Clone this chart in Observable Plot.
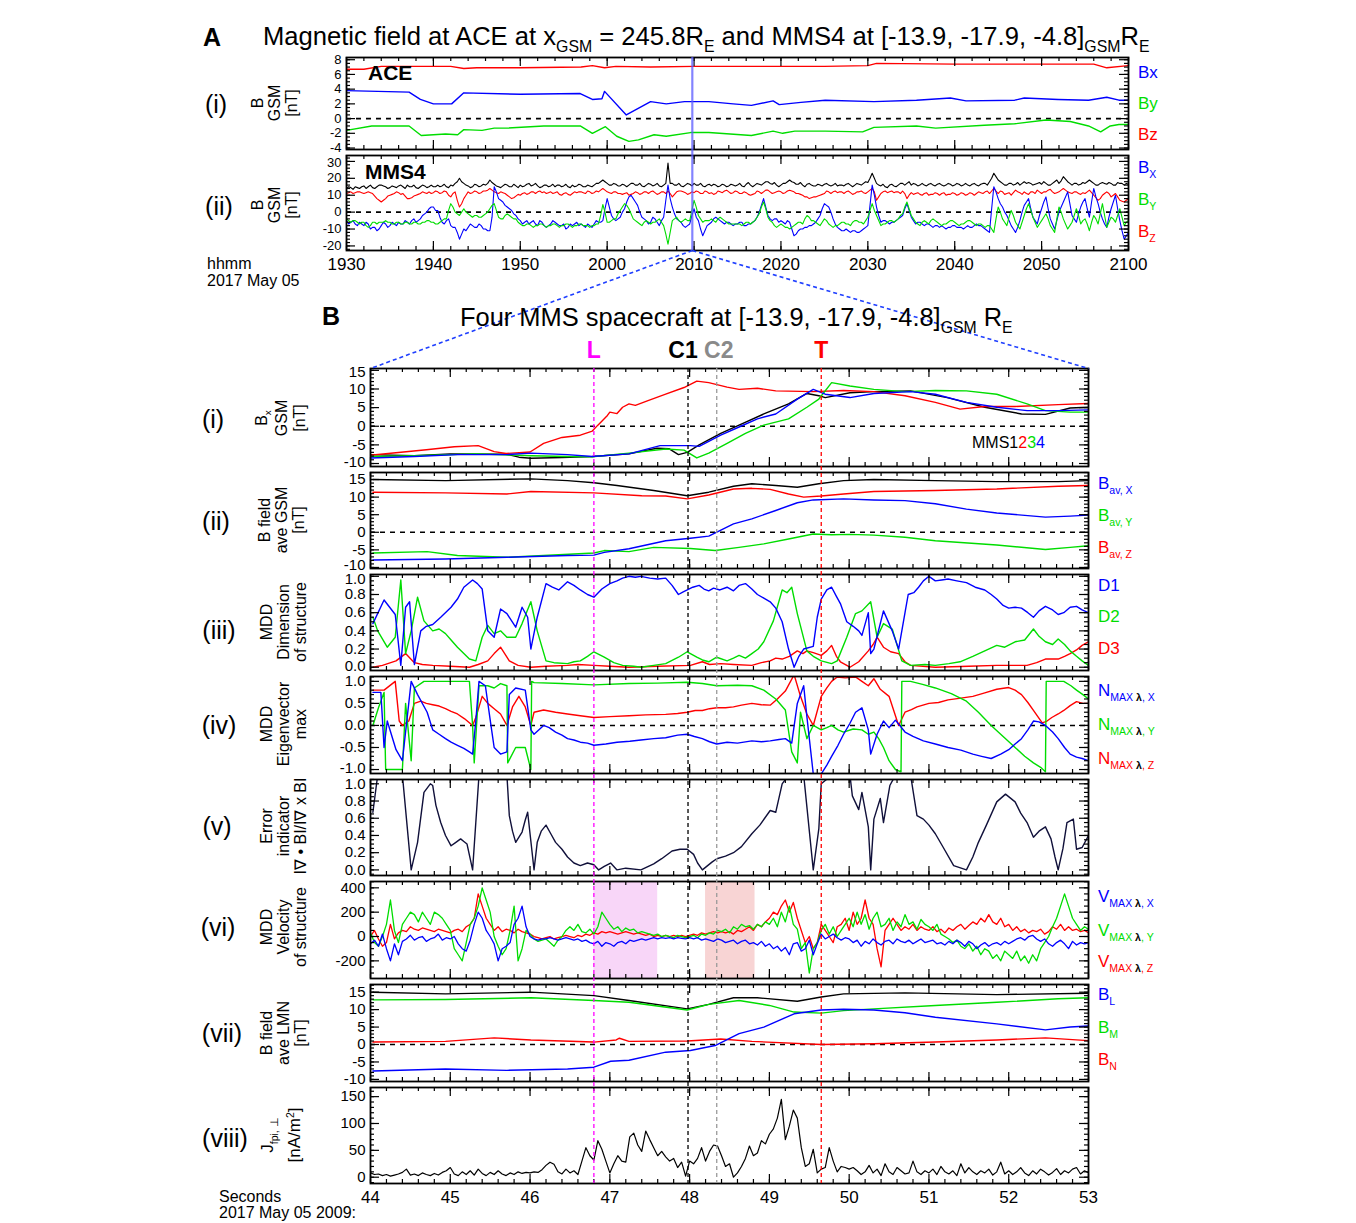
<!DOCTYPE html>
<html><head><meta charset="utf-8">
<script src="https://cdn.jsdelivr.net/npm/d3@7"></script>
<script src="https://cdn.jsdelivr.net/npm/@observablehq/plot@0.6"></script>
<style>
html,body{margin:0;padding:0;background:#fff;}
#root{position:relative;width:1356px;height:1223px;overflow:hidden;font-family:"Liberation Sans",Arial,Helvetica,sans-serif;color:#000;}
.t{position:absolute;white-space:nowrap;line-height:1;}
.sub{font-size:0.62em;position:relative;top:0.45em;}
.sup{font-size:0.62em;position:relative;top:-0.55em;}
.yt{position:absolute;white-space:nowrap;text-align:center;line-height:17px;}
</style></head><body><div id="root"></div>
<script>
const FONT='"Liberation Sans", Arial, Helvetica, sans-serif';
const BLUE="#0000ff", GREEN="#00dd00", RED="#ff0000", BLACK="#000000";

// ================= PANEL A data (x = minutes after 19:30) =================
const aceBx=[[0,3.8],[7.2,3.6],[8.5,2.6],[10,2.0],[12.1,2.0],[13.5,3.5],[20,3.3],[26.9,3.4],[28.3,2.6],[29.4,2.7],[29.7,3.7],[32.2,0.5],[35,2.3],[36.8,2.0],[38.9,2.3],[41.7,2.3],[44.5,2.0],[46.6,1.8],[49.1,2.4],[49.8,1.9],[52.3,2.2],[55.1,2.5],[60.7,2.3],[65.6,2.5],[69.5,2.8],[71.3,2.4],[76.9,2.5],[78,2.8],[81.9,2.6],[85.4,2.5],[87.5,2.9],[88.9,2.5],[90,2.5]];
const aceBy=[[0,-1.6],[2.9,-1.0],[7.2,-1.0],[8.6,-2.3],[10,-2.2],[11.4,-2.1],[12.8,-2.2],[13.5,-1.5],[15.6,-1.6],[17,-1.3],[18.4,-1.3],[22.7,-1.0],[26.9,-1.0],[28.3,-2.0],[29.8,-1.1],[31.1,-2.4],[32.5,-3.1],[33.6,-2.9],[35.4,-2.2],[36.8,-2.4],[39.6,-1.9],[41.7,-1.9],[46.6,-2.3],[49.1,-1.7],[50.2,-2.0],[51.6,-1.7],[55.1,-1.7],[59.4,-1.8],[60.7,-1.2],[65.6,-1.0],[67.8,-1.3],[73.4,-0.9],[76.9,-0.7],[80.5,-0.2],[83.3,-0.4],[85.4,-1.0],[86.8,-1.8],[87.9,-1.0],[88.9,-0.8],[90,-0.8]];
const aceBz=[[0,6.7],[2,6.7],[4,7.1],[12,7.1],[13.5,6.8],[15,6.9],[20,6.9],[27,7.0],[28.3,7.2],[29.7,6.9],[31,7.1],[35,7.0],[40,7.1],[50,7.1],[55,7.1],[60,7.2],[61,7.5],[70,7.4],[80,7.4],[86,7.4],[87.5,6.9],[90,7.2]];

// MMS4: samples on the half minute and values read between them (quarter minutes)
const mms4Bt=[14,14.5,15,14,15.5,15,14.5,15,16,15, 14.5,15,15.5,15,16,15,14.5,15,15.5,15, 15,16,15.5,15,16,17,20,17,15.5,15, 16,15.5,16,19,16.5,15,15.5,16,15,15.5, 16,15.5,17,16,15.5,15,16,15.5,15,16, 15.5,15,16,15.5,16,15,15.5,16,17,19, 17,16,16.5,15.5,16,16,17,16,15.5,16, 16.5,16,15.5,16,29,17,16,15.5,16,16.5, 17,16,15.5,16,15.5,16,15.5,16,15.5,16, 16,15.5,16.5,16,16,16.5,17,18,16.5,16, 16,17,19,17.5,16.5,16,16.5,16,15.5,16, 16.5,16,16,15.5,16,16.5,16,16,16.5,17, 17.5,23,17,15.5,15,16,15.5,16,17,17, 16,16.5,16,16,16.5,16,16.5,16,16,16.5, 16,16.5,16,16,16.5,16,16.5,17,18,23, 19,17,16,17,16.5,16,18,17.5,16,17, 16.5,17,16,18,17,21,18,16,17,16.5, 17,19,17,16,17.5,16.5,17,16,17,16,16.5];
const mms4BtMid=[15,13.5,14.5,15,14,16,14,16,15.5,14, 15.5,14.5,16,14,15,16,14,16,14.5,16, 15,15,16.5,14.5,15.5,18,18,16,14.5,16.5, 15,16.5,17,17.5,15.5,14.5,16.5,15,16.5,14.5, 15,16.5,15.5,17,14.5,16,15,16.5,16,15, 16.5,14.5,15,16.5,15,16,15,17,18,18, 16,17,15.5,16.5,15,17,16,17,15,17, 15.5,17,15,17,17,16,17,15,17,15.5, 16,17,15,16.5,16.5,15,16.5,15,16.5,15.5, 17,15,17.5,15,17,16,18,17,17.5,15, 17,18,18,16.5,17.5,15,17,15.5,16.5,15.5, 17,15.5,17,16,15.5,17,15,17,16,18, 20,20,16,16.5,14.5,16.5,15,17,16,18, 17,15.5,17,15.5,17,15.5,17,15.5,17,15.5, 17,15.5,17,15.5,17,15.5,17,16,20,21, 18,16,17,16,17.5,17,17,17,16.5,17.5, 18,16,17,19,18.5,19.5,17,17,16,17.5, 18,18,16,17,17,17.5,16,17.5,17,17];
const mms4Bz=[11,12,11.5,12,11,12,11,8,6,8, 10,11,11.5,11,8,8.5,10,11,11.5,12, 11.5,12,11.5,12,9,12,3,8,12,11.5, 12,11.5,12.5,14,12,11,11.5,10,8,9.5, 10,11.5,11,12,12,11.5,11,12,11.5,10.5, 11,10.5,11,11.5,12,11,12,11.5,12,14, 12,11,12,11,11,10,11,11.5,11,12, 12,11.5,11,12,12.5,9,12,12.5,11.5,11, 11.5,12,11,12,11.5,11,12,12.5,12,11.5, 12,11,11.5,10,11,12,12,13,11,12, 12,11.5,13,12,11,10,9,8.5,9,10, 11,12,12,11.5,12,12,11.5,11,12,11.5, 12,14,7,11,12.5,12,11.5,12,12.5,8, 11.5,11,10.5,11,10,10.5,11,11,10,10.5, 11,10.5,11,10.5,11,11,11.5,12,11,14, 11,12,11,10,13,11.5,12,10.5,12,13, 11,12,13.5,11,12,14,12,11,12,10.5, 11,13,10,7,10,12,9,11,7,6,8];
const mms4BzMid=[11.5,11,12,11.5,11.5,11.5,9.5,7,7,9.5, 10.5,12,10.5,9.5,8,9.5,10.5,12,11,11, 12.5,11,12.5,10,11,7,5,10,11,12.5, 11,12.5,13,13,11.5,12,11,9,8.5,10.5, 11,10.5,12,11,12.5,12,11.5,11,12,10, 11.5,10,12,12,11.5,12.5,11,12.5,13,13, 11.5,12,11,10.5,11.5,10.5,12,10.5,12,11, 12.5,10.5,12,11,11,10.5,12.5,12,10.5,12, 12.5,11,12.5,11,10.5,12.5,11.5,13,11,12.5, 11,12,10.5,10.5,12.5,11,13,12,11.5,12.5, 11,12.5,12.5,11,10.5,9,8,9,9.5,10.5, 12.5,11,12.5,12,11,12.5,10.5,12,12.5,11, 13,12,9,12,11.5,12.5,12,11,11,10, 10.5,11.5,10,11.5,10.5,11.5,10,11.5,10.5,11.5, 10,11.5,10,11.5,10,12,11,12.5,12.5,12.5, 12.5,10.5,11.5,11.5,12,10.5,11,12,11,12, 12,13,12,11.5,13,13,11.5,12,11,11.5, 12,11.5,8.5,8,11,11,10,9,6.5,7];
const mms4Bx=[-5,-6,-7,-6,-8,-7,-9,-11,-8,-7, -8,-7,-6,-7,-6,-5,-6,-4,-1,2, 3,1,-6,-5,-8,-9,-16,-10,-9,-8, -9,-8,-10,-11,15,8,6,3,1,-2, -5,-6,-7,-5,-8,-6,-9,-7,-6,-8, -7,-9,-8,-6,-7,-9,-8,-7,-6,-5, 8,-2,-5,-3,2,9,8,4,-3,-5, -6,-4,-8,-3,16,3,-4,-6,-9,-7, 2,-5,-14,-8,-6,-3,-5,-7,-6,-8, -7,-6,-8,-7,-5,0,8,-2,-5,-4, -5,-7,-6,-14,-11,-10,-9,-8,-6,-2, 5,3,-4,-9,-11,-10,-12,-11,-12,-10, -8,16,3,-6,-5,-7,-6,-4,-2,5, -3,-7,-6,-8,-7,-9,-8,-8,-10,-9, -8,-9,-10,-8,-9,-7,-8,-10,-12,15, 8,3,-2,-8,-12,-5,4,8,-3,-7, 2,9,-4,-10,0,6,12,-2,-6,3, 8,-3,14,5,-4,-9,2,10,-5,-16,-12];
const mms4BxMid=[-7,-5,-8,-7,-6,-10,-9,-10,-6,-9, -6,-8,-7,-5,-7,-4,-5,-2,0,3, 1,-3,-7,-4,-9,-12,-13,-11,-7,-9, -7,-10,-11,-3,12,7,4,2,-1,-4, -7,-5,-6,-7,-5,-8,-8,-5,-7,-8, -10,-7,-7,-8,-8,-7,-9,-5,-6,2, 3,-4,-4,0,6,10,6,0,-4,-7, -3,-6,-5,7,8,-1,-5,-8,-8,-2, -3,-10,-11,-7,-4,-4,-6,-6,-7,-7, -6,-8,-7,-6,-3,4,3,-4,-4,-6, -6,-5,-10,-13,-10,-9,-8,-7,-4,2, 4,0,-7,-10,-11,-11,-11,-12,-11,-9, 4,10,-2,-5,-6,-6,-5,-3,2,1, -5,-6,-7,-7,-8,-8,-9,-9,-9,-8, -9,-9,-9,-9,-8,-8,-9,-11,2,12, 5,0,-5,-10,-9,0,6,2,-5,-2, 6,2,-7,-5,3,9,5,-4,-1,6, 2,6,9,0,-7,-3,6,2,-11,-14];
const mms4By=[-4,-6,-5,-7,-6,-9,-6,-7,-6,-5, -6,-7,-6,-7,-6,-7,-6,-7,-6,-5, -6,-7,-5,-4,5,0,-2,2,-1,-3, -2,-3,-1,2,5,-3,-4,-1,-3,-4, -7,-8,-7,-9,-8,-7,-9,-8,-7,-9, -8,-7,-9,-8,-7,-8,-9,-8,-7,4.5, -6,-5,-4,1,5,2,-4,-6,-8,-5, -7,-6,-4,-8,-19,-5,-3,-6,-4,-5, 7,-2,-6,-5,-4,-6,-3,-5,-7,-7, -7,-8,-6,-7,-5,-1,6,-3,-6,-9, -7,-9,-10,-8,-6,-7,-2,-5,-6,-8, -4,-7,-9,-8,-6,-7,-8,-5,-6,-7, -3,5,-2,-8,-7,-5,-6,-4,-1,6, -2,-6,-8,-5,-7,-4,-6,-8,-7,-5, -6,-8,-7,-5,-6,-8,-7,-9,-8,-12, 3,-4,-8,1,-6,-10,-2,5,-3,-9, -5,-1,-8,-12,3,-4,-10,-6,2,-7, -4,-11,-2,-7,5,-9,-3,-6,2,-8,-5];
const mms4ByMid=[-5,-5,-6,-6,-8,-8,-6,-6,-6,-6, -7,-6,-7,-6,-7,-6,-7,-6,-5,-6, -7,-6,-4,1,3,-1,0,0,-2,-2, -3,-2,0,4,1,-4,-2,-2,-4,-6, -8,-7,-8,-8,-7,-8,-8,-7,-8,-8, -7,-8,-8,-7,-8,-8,-8,-7,-2,0, -6,-4,-1,3,4,-1,-5,-7,-6,-6, -6,-5,-6,-13,-12,-4,-5,-5,-5,1, 3,-4,-5,-5,-5,-4,-4,-6,-7,-7, -7,-7,-6,-6,-3,3,2,-5,-8,-8, -8,-9,-9,-7,-6,-4,-3,-5,-7,-6, -5,-8,-8,-7,-6,-7,-6,-5,-6,-5, 1,1,-5,-7,-6,-5,-5,-2,3,2, -4,-7,-6,-6,-5,-5,-7,-7,-6,-5, -7,-7,-6,-5,-7,-7,-8,-8,-10,-4, 0,-6,-3,-2,-8,-6,2,1,-6,-7, -3,-4,-10,-4,0,-7,-8,-2,-2,-5, -7,-6,-4,-1,-2,-6,-4,-2,-3,-6];
const aTicks=[0,10,20,30,40,50,60,70,80,90];
const aZoomMinute=39.8; // 20:09:48

// ================= PANEL B data (x = seconds after 20:09) =================
const events=[46.80,47.98,48.34,49.65];
const eventLabels=["L","C1","C2","T"];
const bx1=[[44.0,-7.6],[44.55,-7.9],[45.0,-7.4],[45.7,-7.5],[45.86,-8.3],[46.01,-8.6],[46.4,-8.4],[46.78,-8.1],[47.24,-7.4],[47.59,-5.9],[47.74,-6.0],[47.86,-7.6],[47.97,-7.0],[48.12,-5.0],[48.39,-1.9],[48.62,0.3],[48.93,3.3],[49.24,6.0],[49.47,8.8],[49.62,8.2],[49.70,7.7],[50.01,9.0],[50.31,9.3],[50.77,9.5],[51.23,7.7],[51.7,5.1],[52.16,3.3],[52.46,3.2],[52.77,4.9],[53.0,5.1]];
const bx2=[[44.0,-7.8],[44.7,-6.3],[45.05,-5.5],[45.35,-5.2],[45.55,-6.8],[45.7,-7.3],[46.0,-6.9],[46.17,-4.6],[46.4,-3.0],[46.63,-2.4],[46.78,-1.3],[46.85,0.3],[46.97,2.9],[47.0,3.8],[47.09,3.4],[47.16,5.1],[47.24,6.0],[47.32,5.6],[47.47,6.8],[47.7,8.6],[47.93,10.4],[48.09,12.1],[48.24,11.7],[48.47,10.5],[48.62,9.9],[48.85,10.2],[49.08,9.5],[49.55,9.3],[49.93,9.6],[50.31,9.3],[50.7,8.2],[51.08,6.4],[51.39,4.6],[51.7,5.3],[52.08,5.3],[52.62,5.8],[53.0,6.1]];
const bx3=[[44.0,-8.1],[44.55,-7.9],[45.32,-7.4],[46.01,-7.9],[46.47,-8.1],[46.78,-8.2],[47.24,-7.2],[47.70,-6.1],[47.93,-6.4],[48.09,-8.5],[48.24,-7.2],[48.47,-4.6],[48.70,-1.9],[48.93,0.3],[49.24,2.0],[49.47,5.1],[49.62,7.3],[49.78,11.7],[50.01,10.8],[50.31,9.9],[50.70,9.3],[51.08,9.6],[51.47,9.5],[51.85,8.6],[52.23,6.0],[52.46,4.2],[52.77,3.8],[53.0,3.8]];
const bx4=[[44.0,-8.5],[44.55,-8.1],[45.09,-7.6],[45.71,-7.6],[46.01,-7.2],[46.47,-7.6],[46.78,-8.1],[47.24,-7.4],[47.63,-5.2],[48.01,-5.2],[48.12,-5.4],[48.39,-2.4],[48.62,-0.2],[48.85,2.0],[49.08,3.3],[49.35,7.3],[49.55,9.9],[49.70,8.6],[50.01,7.7],[50.31,8.8],[50.77,9.3],[51.08,8.6],[51.47,6.4],[51.85,5.1],[52.23,4.2],[52.62,4.2],[53.0,4.4]];
const bavT=[[44.03,15],[44.94,14.7],[46.01,15.2],[46.47,14.7],[46.8,14.1],[47.09,13.3],[47.55,11.9],[47.97,10.4],[48.24,11.4],[48.55,13.1],[48.78,13.8],[49.08,13.3],[49.35,12.8],[49.62,13.8],[49.93,14.7],[50.31,15],[51.08,14.7],[51.85,14.4],[52.62,14.4],[53.0,14.7]];
const bavZ=[[44.03,11.4],[44.94,11.2],[45.71,10.9],[46.01,11.6],[46.8,11.2],[47.4,10.4],[47.7,10.3],[47.97,9.5],[48.24,10.6],[48.55,12.3],[48.78,12.5],[49.01,12.2],[49.24,10.9],[49.43,10.0],[49.65,10.3],[49.93,10.9],[50.31,11.6],[51.08,11.9],[51.85,12.3],[52.62,13.1],[53.0,13.3]];
const bavX=[[44.03,-7.9],[44.94,-7.6],[45.71,-7.1],[46.47,-6.6],[46.8,-6.5],[46.93,-5.7],[47.24,-4.7],[47.7,-2.4],[48.01,-1.7],[48.24,-1.1],[48.55,2.4],[48.78,3.8],[49.08,6.2],[49.35,8.4],[49.55,9.2],[49.93,9.5],[50.31,9.2],[50.7,9.0],[51.08,8.1],[51.47,6.6],[51.85,5.5],[52.46,4.3],[52.77,4.6],[53.0,4.9]];
const bavY=[[44.03,-5.9],[44.71,-5.5],[45.09,-6.6],[45.71,-7.1],[46.17,-6.6],[46.8,-5.9],[46.93,-5.2],[47.24,-5.5],[47.55,-4.3],[48.01,-4.6],[48.32,-5.2],[48.62,-4.3],[48.93,-3.3],[49.24,-1.9],[49.55,-0.5],[49.78,-0.7],[50.01,-0.6],[50.31,-0.8],[50.7,-1.4],[51.08,-2.4],[51.85,-3.6],[52.46,-4.9],[52.77,-4.3],[53.0,-3.8]];
const dim1=[[44.03,.48],[44.17,.74],[44.31,.58],[44.38,.02],[44.44,.66],[44.49,.72],[44.55,.03],[44.63,.40],[44.70,.45],[44.78,.47],[44.88,.55],[45.01,.66],[45.09,.75],[45.17,.88],[45.28,.96],[45.34,.92],[45.40,.86],[45.47,.40],[45.55,.33],[45.63,.64],[45.71,.59],[45.82,.44],[45.90,.66],[45.97,.55],[46.01,.20],[46.09,.55],[46.20,.92],[46.28,.88],[46.36,.85],[46.47,.94],[46.55,.90],[46.63,.85],[46.72,.80],[46.80,.77],[46.90,.86],[47.00,.92],[47.09,.95],[47.16,.98],[47.24,1.0],[47.32,.99],[47.39,1.0],[47.50,.98],[47.60,.97],[47.70,.98],[47.78,.90],[47.86,.80],[47.92,.83],[47.97,.85],[48.04,.88],[48.12,.90],[48.18,.86],[48.24,.84],[48.30,.87],[48.38,.85],[48.47,.88],[48.55,.84],[48.62,.90],[48.70,.92],[48.78,.86],[48.85,.80],[48.93,.76],[49.01,.72],[49.08,.65],[49.16,.50],[49.24,.20],[49.31,0.0],[49.37,.12],[49.43,.20],[49.55,.23],[49.60,.55],[49.65,.75],[49.72,.85],[49.78,.88],[49.84,.78],[49.89,.70],[49.97,.50],[50.05,.45],[50.12,.40],[50.16,.35],[50.24,.60],[50.27,.15],[50.31,.20],[50.43,.62],[50.54,.40],[50.62,.20],[50.70,.60],[50.74,.80],[50.81,.82],[50.87,.88],[50.93,.95],[51.00,1.0],[51.08,.95],[51.16,.96],[51.24,.97],[51.35,.95],[51.47,.93],[51.58,.88],[51.70,.85],[51.78,.80],[51.85,.75],[51.93,.68],[52.00,.65],[52.08,.66],[52.16,.65],[52.24,.60],[52.31,.55],[52.38,.62],[52.46,.67],[52.55,.63],[52.62,.58],[52.69,.60],[52.77,.66],[52.85,.67],[52.92,.63],[53.0,.60]];
const dim2=[[44.03,.55],[44.09,.40],[44.21,.22],[44.31,.33],[44.38,.96],[44.44,.15],[44.51,.40],[44.59,.77],[44.67,.51],[44.78,.40],[44.86,.42],[44.94,.37],[45.01,.30],[45.09,.22],[45.17,.15],[45.24,.09],[45.32,.07],[45.40,.33],[45.47,.46],[45.55,.37],[45.63,.40],[45.71,.33],[45.82,.33],[45.90,.48],[46.01,.72],[46.09,.40],[46.20,.07],[46.30,.05],[46.47,.04],[46.55,.06],[46.63,.07],[46.72,.12],[46.80,.17],[46.93,.11],[47.05,.05],[47.16,.02],[47.30,.01],[47.39,0.0],[47.55,.02],[47.70,.04],[47.86,.11],[47.97,.17],[48.09,.11],[48.16,.08],[48.24,.06],[48.34,.11],[48.47,.07],[48.55,.10],[48.62,.13],[48.70,.10],[48.78,.15],[48.86,.20],[48.93,.28],[49.05,.51],[49.16,.85],[49.22,.82],[49.28,.88],[49.35,.59],[49.47,.18],[49.55,.12],[49.65,.07],[49.78,.04],[49.85,.07],[49.97,.33],[50.08,.59],[50.16,.62],[50.27,.72],[50.35,.33],[50.43,.48],[50.54,.42],[50.66,.07],[50.77,.02],[50.95,.03],[51.08,.02],[51.25,.04],[51.39,.06],[51.55,.12],[51.70,.18],[51.85,.24],[51.95,.22],[52.08,.28],[52.20,.30],[52.31,.42],[52.38,.34],[52.46,.28],[52.55,.25],[52.62,.31],[52.70,.25],[52.77,.18],[52.85,.12],[52.92,.07],[53.0,.02]];
const dim3=[[44.03,0],[44.15,.02],[44.32,.07],[44.44,.15],[44.55,.05],[44.65,.03],[44.78,.02],[45.0,.01],[45.24,0],[45.35,.03],[45.47,.07],[45.55,.15],[45.63,.22],[45.74,.07],[45.85,.02],[46.01,0],[46.2,.01],[46.47,.02],[46.6,.03],[46.80,.02],[47.0,.01],[47.24,0],[47.6,.01],[48.01,.02],[48.16,.06],[48.25,.03],[48.39,.04],[48.55,.03],[48.78,.02],[48.9,.05],[49.01,.07],[49.08,.10],[49.16,.09],[49.25,.12],[49.35,.18],[49.42,.15],[49.47,.18],[49.55,.16],[49.65,.13],[49.72,.18],[49.78,.24],[49.84,.12],[49.89,.06],[50.01,0],[50.12,.06],[50.24,.18],[50.30,.25],[50.35,.33],[50.43,.22],[50.52,.17],[50.62,.15],[50.70,.06],[50.77,.02],[51.08,0],[51.5,.01],[51.85,.02],[52.23,.02],[52.35,.05],[52.46,.09],[52.62,.09],[52.70,.12],[52.77,.15],[52.85,.19],[52.92,.24],[53.0,.28]];
const nX=[[44.03,.75],[44.13,.75],[44.17,-.5],[44.21,.1],[44.32,-.55],[44.40,-.8],[44.51,1.0],[44.59,.7],[44.71,.3],[44.78,-.1],[44.86,-.2],[44.94,-.3],[45.01,-.38],[45.09,-.45],[45.17,-.52],[45.24,-.6],[45.28,-.65],[45.32,.1],[45.36,1.0],[45.44,.9],[45.51,0.0],[45.55,-.5],[45.63,-.65],[45.71,-.6],[45.74,.7],[45.82,.85],[45.94,.8],[46.01,-.1],[46.05,-.2],[46.17,0.0],[46.24,-.05],[46.32,-.15],[46.40,-.22],[46.47,-.3],[46.55,-.33],[46.63,-.38],[46.72,-.4],[46.80,-.45],[46.95,-.42],[47.09,-.38],[47.25,-.36],[47.39,-.33],[47.55,-.30],[47.70,-.28],[47.85,-.22],[47.97,-.2],[48.06,-.25],[48.16,-.3],[48.25,-.37],[48.34,-.42],[48.47,-.38],[48.6,-.40],[48.78,-.35],[48.9,-.37],[49.01,-.35],[49.12,-.32],[49.20,-.3],[49.28,-.4],[49.35,.5],[49.43,.9],[49.47,.2],[49.55,-1.1],[49.65,-1.1],[49.72,-.9],[49.78,-.7],[49.86,-.45],[49.93,-.2],[50.01,.05],[50.08,.3],[50.16,.4],[50.24,-.1],[50.27,-.65],[50.35,-.2],[50.43,.1],[50.50,-.05],[50.58,.12],[50.70,-.15],[50.80,-.25],[50.93,-.35],[51.08,-.42],[51.24,-.5],[51.40,-.56],[51.55,-.65],[51.66,-.70],[51.78,-.75],[51.90,-.65],[52.00,-.55],[52.08,-.42],[52.16,-.3],[52.24,-.1],[52.31,.1],[52.38,.08],[52.46,0.0],[52.55,-.15],[52.62,-.3],[52.70,-.5],[52.77,-.65],[52.85,-.72],[52.92,-.75],[53.0,-.8]];
const nY=[[44.03,0.0],[44.10,.4],[44.17,.75],[44.19,-1.0],[44.40,-1.0],[44.44,.5],[44.51,-.8],[44.55,.85],[44.67,1.0],[45.24,1.0],[45.28,0.0],[45.30,-.85],[45.36,.9],[45.47,.9],[45.55,.85],[45.63,.95],[45.71,.9],[45.72,-.85],[45.82,-.5],[45.94,-.5],[46.01,-1.0],[46.02,1.0],[46.05,.97],[46.40,.95],[46.80,.92],[47.24,.95],[47.6,.96],[47.97,.98],[48.16,.95],[48.34,.9],[48.6,.91],[48.78,.9],[48.93,.8],[49.08,.6],[49.20,.35],[49.28,-.6],[49.35,-.85],[49.39,.3],[49.47,-.3],[49.55,0.0],[49.65,-.1],[49.72,-.05],[49.78,0.0],[49.86,-.1],[49.93,-.15],[50.05,-.08],[50.16,-.1],[50.24,-.2],[50.31,-.15],[50.37,-.3],[50.43,-.5],[50.50,-.8],[50.58,-1.0],[50.65,-1.05],[50.66,1.0],[50.77,1.0],[50.92,.93],[51.08,.85],[51.28,.72],[51.47,.55],[51.62,.3],[51.78,0.0],[51.93,-.25],[52.08,-.5],[52.20,-.7],[52.31,-.85],[52.40,-.95],[52.46,-1.05],[52.47,1.0],[52.69,1.0],[52.78,.9],[52.85,.8],[52.93,.7],[53.0,.6]];
const nZ=[[44.03,.8],[44.17,.8],[44.31,1.0],[44.36,.1],[44.40,0.0],[44.48,.1],[44.55,.5],[44.63,.55],[44.70,.5],[44.78,.47],[44.86,.44],[44.94,.38],[45.01,.32],[45.09,.26],[45.18,.15],[45.28,0.0],[45.32,.18],[45.40,.66],[45.47,.5],[45.55,.38],[45.63,.26],[45.71,0.0],[45.78,.42],[45.86,.66],[45.94,.42],[46.01,0.0],[46.05,.3],[46.17,.35],[46.32,.30],[46.47,.26],[46.63,.22],[46.80,.18],[47.0,.20],[47.24,.22],[47.45,.24],[47.70,.25],[47.85,.27],[47.97,.3],[48.07,.34],[48.16,.34],[48.25,.38],[48.34,.4],[48.45,.40],[48.55,.42],[48.65,.46],[48.78,.5],[48.9,.47],[49.01,.46],[49.10,.60],[49.20,.78],[49.31,1.15],[49.39,.66],[49.47,.26],[49.55,0.0],[49.65,.66],[49.72,.85],[49.78,1.0],[49.85,1.1],[49.95,1.08],[50.08,1.1],[50.16,1.0],[50.24,.9],[50.31,1.06],[50.39,.82],[50.50,.66],[50.62,0.0],[50.70,.3],[50.78,.36],[50.85,.42],[51.00,.5],[51.12,.52],[51.24,.58],[51.40,.62],[51.55,.66],[51.70,.74],[51.85,.82],[52.00,.86],[52.08,.80],[52.16,.7],[52.24,.52],[52.31,.34],[52.42,.06],[52.48,.10],[52.54,.18],[52.62,.26],[52.69,.34],[52.77,.45],[52.85,.54],[52.93,.50],[53.0,.5]];
const errInd=[[44.03,.67],[44.09,1.1],[44.40,1.1],[44.51,0.0],[44.59,.32],[44.67,.9],[44.75,1.0],[44.78,.98],[44.82,.75],[44.88,.55],[44.94,.4],[45.01,.28],[45.07,.32],[45.13,.36],[45.17,.33],[45.21,.3],[45.28,0.0],[45.36,1.1],[45.71,1.1],[45.74,.63],[45.78,.45],[45.82,.32],[45.90,.44],[45.94,.58],[45.97,.67],[46.05,0.0],[46.09,.32],[46.14,.45],[46.20,.52],[46.26,.42],[46.32,.32],[46.40,.24],[46.47,.15],[46.55,.08],[46.63,.05],[46.72,.08],[46.80,.06],[46.86,0.0],[46.93,.04],[47.01,.08],[47.09,0.0],[47.20,.02],[47.39,0.0],[47.55,.07],[47.65,.13],[47.78,.22],[47.88,.24],[47.97,.24],[48.05,.18],[48.10,.08],[48.16,0.0],[48.28,.09],[48.34,.13],[48.45,.16],[48.55,.2],[48.65,.27],[48.78,.42],[48.88,.52],[49.01,.69],[49.08,.67],[49.16,1.0],[49.24,1.1],[49.43,1.1],[49.55,0.0],[49.62,.48],[49.65,1.0],[49.78,1.1],[50.01,1.1],[50.04,.86],[50.12,.7],[50.16,.9],[50.24,.5],[50.27,0.0],[50.31,.59],[50.39,.83],[50.43,.55],[50.51,.98],[50.58,1.1],[50.77,1.1],[50.85,.63],[50.93,.59],[51.00,.52],[51.08,.42],[51.18,.26],[51.31,.05],[51.47,0.0],[51.55,.15],[51.62,.32],[51.72,.52],[51.85,.79],[51.96,.88],[52.08,.79],[52.15,.66],[52.23,.55],[52.31,.38],[52.38,.45],[52.46,.5],[52.53,.36],[52.58,.15],[52.62,0.0],[52.68,.25],[52.73,.55],[52.81,.59],[52.85,.24],[52.92,.26],[53.0,.4]];
const vX=[-60,-30,-80,20,-100,-200,-60,-150,-40,-20,10,-30,-10,0,-40,-20,-10,20,-30,-10, -20,0,-60,-100,-120,-30,100,200,150,50,0,-60,-200,-100,-80,-50,100,150,250,80, 0,-20,-30,-20,-20,-10,-20,-30,-20,-10,-20,-30,-20,-40,-30,-50,-60,-40,-80,-50, -60,-80,-50,-40,-60,-30,-40,-30,-20,-30,-20,-10,-20,-10,-15,-10,-20,-10,-15,-20, -10,-20,-10,-30,-20,-30,-40,-20,-30,-50,-40,-30,-60,-40,-30,-60,-50,-70,-40,-80, -60,-100,-80,-120,-90,-150,-60,-50,-120,-100,-30,-150,-60,20,-20,0,20,-10,-30,-10, -20,-50,-30,-80,-40,-60,-20,-50,-70,-40,-30,-60,-20,-40,-50,-30,-60,-40,-20,-50, -40,-30,-60,-50,-70,-40,-60,-30,-50,-80,-40,-60,-100,-70,-50,-80,-60,-50,-70,-40, -60,-40,-20,-10,-30,0,10,-20,-40,-20,-60,-80,-50,-30,-60,-100,-40,-70,-50,-60,-50];
const vY=[30,-50,-80,0,100,300,50,-50,100,150,200,180,120,200,150,100,200,180,150,100, 50,-100,-150,-200,-50,100,150,250,400,300,200,0,-80,-150,-100,50,250,-200,-100,50, 20,-20,-40,-30,-20,-50,-80,-30,0,50,80,50,100,40,30,60,20,80,200,150, 100,60,80,40,70,50,60,30,40,30,20,10,20,0,10,0,-10,10,0,-10, 0,10,-10,20,10,30,20,50,40,60,30,80,60,100,80,90,60,100,80,120, 100,150,80,200,120,250,100,60,-100,-50,-300,-100,-50,50,100,20,80,0,50,100, 150,80,200,100,180,60,150,200,80,100,150,50,120,80,180,100,120,60,140,100, 80,50,100,20,0,-20,-50,-30,-80,-100,-60,-120,-80,-150,-100,-120,-180,-150,-200,-120, -150,-180,-120,-200,-160,-220,-150,-200,-100,-50,0,80,150,250,350,250,150,100,50,80,60];
const vZ=[0,50,-20,-80,-50,100,-20,30,50,40,80,60,50,70,60,50,40,60,50,40, 30,50,60,40,80,100,150,350,250,150,100,50,80,40,60,50,30,60,40,30, 20,0,-10,-20,-10,0,-20,-10,0,10,0,-10,10,0,20,10,30,20,40,30, 40,30,20,30,40,30,20,30,20,10,20,0,10,0,10,0,10,0,10,0, 10,20,10,30,20,30,40,30,40,30,40,20,50,40,60,80,50,100,80,120, 150,200,180,250,300,200,280,150,50,-50,0,-100,-50,100,50,0,-50,80,100,150, 50,200,100,150,300,150,100,-100,-250,50,100,150,100,50,80,60,100,50,80,60, 50,80,40,60,30,70,50,80,100,60,90,120,100,150,120,180,120,100,150,80, 100,50,80,40,60,30,50,40,60,20,40,80,60,100,50,80,50,60,40,50,30];
const shadeL=[46.80,47.60], shadeC=[48.20,48.82];
const bT7=[[44.03,15],[44.94,14.5],[46.01,15],[46.8,14],[47.24,12.6],[47.97,10.2],[48.24,11.5],[48.55,13.4],[48.85,13.4],[49.35,12.4],[49.65,13.6],[49.93,14.5],[50.7,14.8],[51.85,14.3],[53.0,14.7]];
const bM=[[44.03,12.8],[44.94,12.9],[46.01,13.4],[46.8,12.6],[47.24,12.1],[47.97,9.9],[48.24,11.5],[48.62,12.6],[49.0,11.2],[49.31,9.3],[49.65,9.0],[49.93,9.7],[50.31,10.2],[51.08,11.2],[51.85,12.1],[52.62,13.1],[53.0,13.4]];
const bL=[[44.03,-7.6],[44.94,-7.0],[45.71,-7.4],[46.47,-7.0],[46.8,-6.5],[47.01,-4.8],[47.24,-4.5],[47.7,-2.2],[48.01,-1.7],[48.32,-0.3],[48.62,3.1],[48.93,5.0],[49.31,8.8],[49.65,9.9],[49.93,10.1],[50.31,9.9],[50.7,9.1],[51.08,7.8],[51.85,5.9],[52.46,4.2],[52.77,5.0],[53.0,5.3]];
const bN=[[44.03,0.7],[44.94,0.9],[45.55,1.9],[46.01,1.3],[46.8,0.7],[47.08,1.3],[47.12,1.8],[47.24,0.9],[47.97,1.0],[48.39,1.6],[48.78,0.9],[49.65,0.0],[50.31,0.2],[51.08,0.7],[51.85,1.3],[52.46,1.9],[53.0,1.1]];
const jPerp=[8,5,6,3,5,2,4,6,9,15,4,6,3,8,5,3,7,4,9,12, 18,6,3,10,5,12,4,15,7,3,9,5,12,6,3,8,5,10,7,9, 8,10,9,14,22,28,24,10,6,15,8,12,5,30,55,40,32,68,52,30, 8,25,40,30,28,75,82,60,48,86,70,55,40,48,38,30,35,18,28,2, 30,25,35,55,30,48,60,58,40,20,25,0,8,20,35,58,40,45,68,62, 80,90,110,145,70,95,125,110,55,20,25,52,8,15,18,55,30,10,20,18, 15,18,12,5,10,22,8,15,3,25,10,5,18,12,6,8,30,10,5,12, 8,15,5,20,10,6,12,3,25,8,18,10,5,12,8,15,4,10,28,6, 12,5,10,18,8,3,12,6,15,10,4,9,16,5,12,8,15,18,6,12,8];
const bTicks=[44,45,46,47,48,49,50,51,52,53];

// ================= helpers =================
const root=document.getElementById('root');
const interleave=(a,b)=>a.flatMap((v,i)=>i<b.length?[v,b[i]]:[v]);
const qGrid=d3.range(361).map(i=>i*0.25);
const sGrid=d3.range(181).map(i=>+(44+i*0.05).toFixed(2));
const zip=(xs,ys)=>xs.map((x,i)=>[x,ys[i]]);
const rng=(a,b,s)=>{const o=[];for(let k=Math.ceil(a/s-1e-9);k*s<=b+1e-9;k++)o.push(+(k*s).toFixed(6));return o;};

function txt(html,x,y,{size=16,ax=0,ay=0.5,color='#000',weight='normal',fit=null}={}){
  const d=document.createElement('div');d.className='t';d.innerHTML=html;
  Object.assign(d.style,{left:x+'px',top:y+'px',fontSize:size+'px',color,fontWeight:weight,transform:`translate(${-ax*100}%,${-ay*100}%)`});
  root.appendChild(d);
  if(fit){const w=d.getBoundingClientRect().width; if(w>0) d.style.fontSize=(size*fit/w)+'px';}
  return d;
}
function ytitle(lines,cx,cy,size=16,lh=17){
  const d=document.createElement('div');d.className='yt';d.innerHTML=lines.join('<br>');
  Object.assign(d.style,{left:cx+'px',top:cy+'px',fontSize:size+'px',lineHeight:lh+'px',transform:'translate(-50%,-50%) rotate(-90deg)'});
  root.appendChild(d);
}
const M={L:70,R:24,T:12};
function panel(cfg){
  const {x0,x1,y0,y1,xdom,ydom,series=[],yt,ymin,yfmt=d=>d,xt,xmin,xlab=false,xfmt=d=>d,zero=false,under=[],fs=15,nudge={}}=cfg;
  const mB=xlab?36:12;
  const fw=x1-x0, fh=y1-y0;
  const kx=(xdom[1]-xdom[0])/fw, ky=(ydom[1]-ydom[0])/fh;
  const marks=[...under];
  if(zero) marks.push(Plot.ruleY([0],{stroke:'#000',strokeWidth:1.6,strokeDasharray:'5,5'}));
  for(const s of series) marks.push(Plot.line(s.d,{x:d=>d[0],y:d=>d[1],stroke:s.c,strokeWidth:s.w||1.4,clip:true}));
  const tk={stroke:'#000',strokeWidth:1.2};
  const yr=(v,l)=>[Plot.ruleY(v,{y:d=>d,x1:xdom[0],x2:xdom[0]+l*kx,...tk}),Plot.ruleY(v,{y:d=>d,x1:xdom[1]-l*kx,x2:xdom[1],...tk})];
  const xr=(v,l)=>[Plot.ruleX(v,{x:d=>d,y1:ydom[0],y2:ydom[0]+l*ky,...tk}),Plot.ruleX(v,{x:d=>d,y1:ydom[1]-l*ky,y2:ydom[1],...tk})];
  marks.push(...yr(ymin,4),...yr(yt,9),...xr(xmin,4),...xr(xt,9));
  marks.push(Plot.frame({stroke:'#000',strokeWidth:1.8}));
  const plain=yt.filter(v=>!(String(v) in nudge));
  marks.push(Plot.axisY({ticks:plain,tickSize:0,tickPadding:5,tickFormat:yfmt,label:null,fontSize:fs}));
  for(const k of Object.keys(nudge)) marks.push(Plot.axisY({ticks:[+k],tickSize:0,tickPadding:5,tickFormat:yfmt,label:null,fontSize:fs,dy:nudge[k]}));
  if(xlab) marks.push(Plot.axisX({ticks:xt,tickSize:0,tickPadding:7,tickFormat:xfmt,label:null,fontSize:17}));
  const p=Plot.plot({width:fw+M.L+M.R,height:fh+M.T+mB,marginLeft:M.L,marginRight:M.R,marginTop:M.T,marginBottom:mB,
    x:Object.assign({domain:xdom},xlab?{}:{axis:null}),y:{domain:ydom},
    style:{background:'transparent',fontFamily:FONT,fontSize:'15px',overflow:'visible'},marks});
  Object.assign(p.style,{position:'absolute',left:(x0-M.L)+'px',top:(y0-M.T)+'px',maxWidth:'none'});
  root.appendChild(p);
  return {p,left:x0-M.L,top:y0-M.T};
}

// ================= Panel A =================
const AX0=346, AX1=1128;
const hhmm=m=>{const t=19*60+30+m;return String(Math.floor(t/60)*100+t%60);};
const Ai=panel({x0:AX0,x1:AX1,y0:57,y1:149,xdom:[0,90],ydom:[-4.2,8.3],zero:true,fs:13,
  series:[{d:aceBz,c:RED},{d:aceBx,c:BLUE},{d:aceBy,c:GREEN}],
  yt:[-4,-2,0,2,4,6,8],ymin:rng(-4.2,8.3,0.5),xt:aTicks,xmin:rng(0,90,2)});
const Aii=panel({x0:AX0,x1:AX1,y0:155,y1:250,xdom:[0,90],ydom:[-22.7,33.5],zero:true,xlab:true,xfmt:hhmm,fs:13,nudge:{'30':1.6},
  series:[{d:zip(qGrid,interleave(mms4Bt,mms4BtMid)),c:BLACK,w:1.1},{d:zip(qGrid,interleave(mms4Bz,mms4BzMid)),c:RED,w:1.1},
          {d:zip(qGrid,interleave(mms4Bx,mms4BxMid)),c:BLUE,w:1.1},{d:zip(qGrid,interleave(mms4By,mms4ByMid)),c:GREEN,w:1.1}],
  yt:[-20,-10,0,10,20,30],ymin:rng(-22.7,33.5,2),xt:aTicks,xmin:rng(0,90,2)});

// ================= Panel B =================
const BX0=370, BX1=1088;
const fr=[[368,466],[472,568],[574,670],[676,773],[779,875],[881,978],[984,1081],[1087,1183]];
const common={x0:BX0,x1:BX1,xdom:[44,53],xt:bTicks,xmin:rng(44,53,0.2)};
const Bi=panel({...common,y0:fr[0][0],y1:fr[0][1],ydom:[-10.8,15.5],zero:true,nudge:{'15':2,'-10':-1},
  series:[{d:bx1,c:BLACK},{d:bx2,c:RED},{d:bx3,c:GREEN},{d:bx4,c:BLUE}],yt:[-10,-5,0,5,10,15],ymin:rng(-10.8,15.5,1)});
panel({...common,y0:fr[1][0],y1:fr[1][1],ydom:[-10.3,17],zero:true,nudge:{'-10':-2.7},
  series:[{d:bavT,c:BLACK},{d:bavZ,c:RED},{d:bavY,c:GREEN},{d:bavX,c:BLUE}],yt:[-10,-5,0,5,10,15],ymin:rng(-10.3,17,1)});
const f1=d=>d.toFixed(1);
panel({...common,y0:fr[2][0],y1:fr[2][1],ydom:[-0.036,1.02],nudge:{'1':3.3,'0':-1.5},
  series:[{d:dim3,c:RED},{d:dim2,c:GREEN},{d:dim1,c:BLUE}],yt:[0,0.2,0.4,0.6,0.8,1.0],yfmt:f1,ymin:rng(-0.036,1.02,0.05)});
panel({...common,y0:fr[3][0],y1:fr[3][1],ydom:[-1.09,1.11],zero:true,nudge:{'-1':-1.5},
  series:[{d:nZ,c:RED},{d:nY,c:GREEN},{d:nX,c:BLUE}],yt:[-1,-0.5,0,0.5,1],yfmt:f1,ymin:rng(-1.09,1.11,0.1)});
panel({...common,y0:fr[4][0],y1:fr[4][1],ydom:[-0.065,1.05],
  series:[{d:errInd,c:'#10103a'}],yt:[0,0.2,0.4,0.6,0.8,1.0],yfmt:f1,ymin:rng(-0.065,1.05,0.05)});
const vdom=[-345,452];
panel({...common,y0:fr[5][0],y1:fr[5][1],ydom:vdom,
  under:[Plot.rect([shadeL],{x1:d=>d[0],x2:d=>d[1],y1:vdom[0],y2:vdom[1],fill:'#f8d6f8'}),
         Plot.rect([shadeC],{x1:d=>d[0],x2:d=>d[1],y1:vdom[0],y2:vdom[1],fill:'#f8d4d4'})],
  series:[{d:zip(sGrid,vZ),c:RED,w:1.3},{d:zip(sGrid,vY),c:GREEN,w:1.3},{d:zip(sGrid,vX),c:BLUE,w:1.3}],
  yt:[-200,0,200,400],ymin:rng(-345,452,50)});
panel({...common,y0:fr[6][0],y1:fr[6][1],ydom:[-10.6,17.2],zero:true,
  series:[{d:bT7,c:BLACK},{d:bM,c:GREEN},{d:bN,c:RED},{d:bL,c:BLUE}],yt:[-10,-5,0,5,10,15],ymin:rng(-10.6,17.2,1)});
panel({...common,y0:fr[7][0],y1:fr[7][1],ydom:[-11.7,167],xlab:true,
  series:[{d:zip(sGrid,jPerp),c:BLACK,w:1.2}],yt:[0,50,100,150],ymin:rng(-11.7,167,10)});

// ================= overlays =================
const evColors=['#ff00ff','#000000','#9a9a9a','#ff0000'], evTextColors=['#ff00ff','#000000','#8a8a8a','#ff0000'], evDx=[0,-5,2,0];
const evMarks=[];
events.forEach((t,i)=>{
  evMarks.push(Plot.ruleX([t],{x:d=>d,stroke:evColors[i],strokeWidth:1.3,strokeDasharray:'4,3'}));
  evMarks.push(Plot.text([t],{x:d=>d,text:()=>eventLabels[i],frameAnchor:'top',lineAnchor:'middle',dy:-18,dx:evDx[i],fill:evTextColors[i],fontSize:23,fontWeight:'bold'}));
});
const ovB=Plot.plot({width:BX1-BX0+M.L+M.R,height:fr[7][1]-fr[0][0]+50,marginLeft:M.L,marginRight:M.R,marginTop:45,marginBottom:5,
  x:{domain:[44,53],axis:null},y:{domain:[0,1],axis:null},style:{background:'transparent',fontFamily:FONT,overflow:'visible'},marks:evMarks});
Object.assign(ovB.style,{position:'absolute',left:(BX0-M.L)+'px',top:(fr[0][0]-45)+'px',pointerEvents:'none',maxWidth:'none'});
root.appendChild(ovB);

const ovA=Plot.plot({width:AX1-AX0+M.L+M.R,height:250-57+10,marginLeft:M.L,marginRight:M.R,marginTop:5,marginBottom:5,
  x:{domain:[0,90],axis:null},y:{domain:[0,1],axis:null},style:{background:'transparent',overflow:'visible'},
  marks:[Plot.ruleX([aZoomMinute],{x:d=>d,stroke:'#5a5aff',strokeOpacity:0.75,strokeWidth:2.2})]});
Object.assign(ovA.style,{position:'absolute',left:(AX0-M.L)+'px',top:(57-5)+'px',pointerEvents:'none',maxWidth:'none'});
root.appendChild(ovA);

const xA=Aii.left+Aii.p.scale('x').apply(aZoomMinute);
const xBl=Bi.left+Bi.p.scale('x').apply(44), xBr=Bi.left+Bi.p.scale('x').apply(53);
const yA=Aii.top+Aii.p.scale('y').apply(-22.7), yB=Bi.top+Bi.p.scale('y').apply(15.5);
const conn=[{x1:xA,y1:yA,x2:xBl,y2:yB},{x1:xA,y1:yA,x2:xBr,y2:yB}];
const ovC=Plot.plot({width:1356,height:1223,margin:0,x:{domain:[0,1356],range:[0,1356],axis:null},y:{domain:[0,1223],range:[0,1223],axis:null},
  style:{background:'transparent'},marks:[Plot.link(conn,{x1:'x1',y1:'y1',x2:'x2',y2:'y2',stroke:'#1f3fff',strokeWidth:1.6,strokeDasharray:'4,3'})]});
Object.assign(ovC.style,{position:'absolute',left:'0px',top:'0px',pointerEvents:'none',maxWidth:'none'});
root.appendChild(ovC);

// ================= texts =================
txt('A',203,37,{size:25,weight:'bold'});
txt('Magnetic field at ACE at x<span class="sub">GSM</span> = 245.8R<span class="sub">E</span> and MMS4 at [-13.9, -17.9, -4.8]<span class="sub">GSM</span>R<span class="sub">E</span>',263,37,{size:23,fit:887});
txt('ACE',368,72,{size:21,weight:'bold'});
txt('MMS4',365,171,{size:21,weight:'bold'});
txt('Bx',1138,72,{size:17,color:BLUE});
txt('By',1138,103,{size:17,color:GREEN});
txt('Bz',1138,134,{size:17,color:RED});
txt('B<span class="sub">X</span>',1138,167,{size:17,color:BLUE});
txt('B<span class="sub">Y</span>',1138,199,{size:17,color:GREEN});
txt('B<span class="sub">Z</span>',1138,231,{size:17,color:RED});
txt('(i)',216,104,{size:25,ax:0.5});
txt('(ii)',219,206,{size:25,ax:0.5});
ytitle(['B','GSM','[nT]'],274,103);
ytitle(['B','GSM','[nT]'],274,205);
txt('hhmm',207,264,{size:16});
txt('2017 May 05',207,281,{size:16});

txt('B',322,316,{size:25,weight:'bold'});
txt('Four MMS spacecraft at [-13.9, -17.9, -4.8]<span class="sub">GSM</span> R<span class="sub">E</span>',460,318,{size:22,fit:553});

const romans=[['(i)',213,419],['(ii)',216,521],['(iii)',219,630],['(iv)',219,725],['(v)',217,826],['(vi)',218,927],['(vii)',222,1033],['(viii)',225,1138]];
romans.forEach(([s,x,y])=>txt(s,x,y,{size:25,ax:0.5}));
ytitle(['B<span class="sub">x</span>','GSM','[nT]'],281,418,16,18);
ytitle(['B field','ave GSM','[nT]'],281,520);
ytitle(['MDD','Dimension','of structure'],283,622);
ytitle(['MDD','Eigenvector','max'],283,724);
ytitle(['Error','indicator','I∇ • BI/I∇ x BI'],283,826);
ytitle(['MDD','Velocity','of structure'],283,927);
ytitle(['B field','ave LMN','[nT]'],283,1033);
ytitle(['J<span class="sub">fpi, ⊥</span>','[nA/m<span class="sup">2</span>]'],282,1135,17,26);

txt('MMS1<span style="color:#ff0000">2</span><span style="color:#00dd00">3</span><span style="color:#0000ff">4</span>',972,443,{size:16});
const sideB=(main,sub,y,c)=>txt(`${main}<span class="sub">${sub}</span>`,1098,y,{size:17,color:c});
sideB('B','av, X',483,BLUE);sideB('B','av, Y',515,GREEN);sideB('B','av, Z',547,RED);
txt('D1',1098,585,{size:17,color:BLUE});txt('D2',1098,616,{size:17,color:GREEN});txt('D3',1098,648,{size:17,color:RED});
const lam='<b style="color:#000">λ</b>';
sideB('N','MAX '+lam+', X',690,BLUE);sideB('N','MAX '+lam+', Y',724,GREEN);sideB('N','MAX '+lam+', Z',758,RED);
sideB('V','MAX '+lam+', X',896,BLUE);sideB('V','MAX '+lam+', Y',930,GREEN);sideB('V','MAX '+lam+', Z',961,RED);
sideB('B','L',994,BLUE);sideB('B','M',1027,GREEN);sideB('B','N',1059,RED);
txt('Seconds',219,1197,{size:16});
txt('2017 May 05 2009:',219,1213,{size:16});
</script></body></html>
